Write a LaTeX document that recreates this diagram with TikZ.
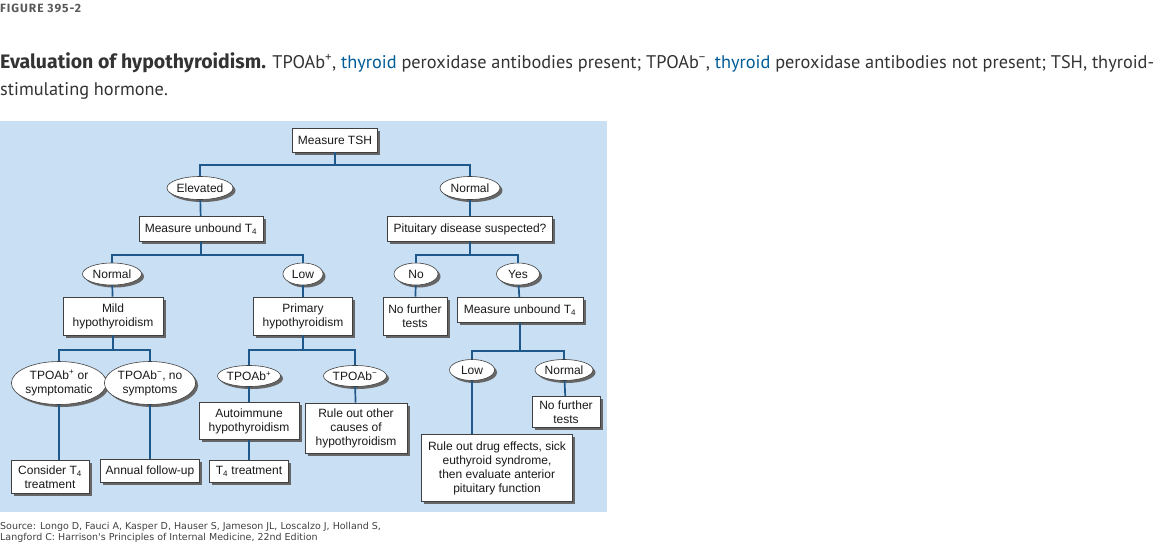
\documentclass[tikz,border=0pt]{standalone}
\usepackage{fontspec}
\setmainfont{Liberation Sans}
\newfontfamily\capfont{PT Sans}
\newfontfamily\headfont{Fira Sans}
\newfontfamily\figfont[LetterSpace=8]{Fira Sans}
\newfontfamily\srcfont{DejaVu Sans}
\usetikzlibrary{shapes.geometric,shadows}
\definecolor{bgblue}{RGB}{201,223,243}
\definecolor{linkblue}{RGB}{31,88,138}
\definecolor{refblue}{RGB}{0,92,150}
\definecolor{captext}{RGB}{51,51,51}
\tikzset{
  box/.style={draw=black!75, fill=white, line width=0.6pt, align=center, inner sep=0pt,
    text=black!90, font=\fontsize{12}{14}\selectfont,
    drop shadow={shadow xshift=2.5pt, shadow yshift=-2.5pt, fill=black!60, opacity=1}},
  oval/.style={box, ellipse},
  link/.style={draw=linkblue, line width=1.7pt}
}

\begin{document}
\begin{tikzpicture}[x=1pt,y=-1pt]
    \useasboundingbox (0,0) rectangle (1161,544);
    % caption
    \node[anchor=base west, inner sep=0pt, text=black!65, font=\figfont\bfseries\fontsize{12}{14}\selectfont] (fig) at (0,12) {FIGURE 395-2};
    \node[anchor=base west, inner sep=0pt, text=captext, font=\capfont\fontsize{18.3}{22}\selectfont] (cap1) at (0,68)
      {{\headfont\bfseries\fontsize{19.5}{22}\selectfont Evaluation of hypothyroidism.} TPOAb\textsuperscript{+}, \textcolor{refblue}{thyroid} peroxidase antibodies present; TPOAb\textsuperscript{−}, \textcolor{refblue}{thyroid} peroxidase antibodies not present; TSH, thyroid-};
    \node[anchor=base west, inner sep=0pt, text=captext, font=\capfont\fontsize{18.3}{22}\selectfont] (cap2) at (0,95) {stimulating hormone.};
    \fill[bgblue] (0,121) rectangle (607,512);

    % level 1
    \node[box, minimum width=85pt, minimum height=24pt] (tsh) at (335,140) {Measure TSH};
    \node[oval, minimum width=59pt, minimum height=23pt] (elev) at (200,188) {Elevated};
    \node[oval, minimum width=60pt, minimum height=23pt] (norm) at (470,188) {Normal};
    \node[box, minimum width=124pt, minimum height=25pt] (mua) at (201,229) {Measure unbound T\textsubscript{4}};
    \node[box, minimum width=165pt, minimum height=25pt] (pit) at (470,229) {Pituitary disease suspected?};

    % level 2
    \node[oval, minimum width=59pt, minimum height=22pt] (normb) at (112,274) {Normal};
    \node[oval, minimum width=40pt, minimum height=22pt] (lowb) at (303,274) {Low};
    \node[oval, minimum width=44pt, minimum height=22pt] (no) at (416,274) {No};
    \node[oval, minimum width=43pt, minimum height=22pt] (yes) at (518,274) {Yes};
    \node[box, minimum width=100pt, minimum height=38pt] (mild) at (113,316) {Mild\\hypothyroidism};
    \node[box, minimum width=99pt, minimum height=38pt] (prim) at (303,316) {Primary\\hypothyroidism};
    \node[box, minimum width=64pt, minimum height=38pt] (nfta) at (415,316) {No further\\tests};
    \node[box, minimum width=126pt, minimum height=25pt] (mub) at (520,310) {Measure unbound T\textsubscript{4}};

    % level 3
    \node[oval, minimum width=94pt, minimum height=43pt] (posa) at (59,383) {TPOAb\textsuperscript{+} or\\symptomatic};
    \node[oval, minimum width=78pt, minimum height=43pt] (nega) at (150,383) {TPOAb\textsuperscript{−}, no\\symptoms};
    \node[oval, minimum width=58pt, minimum height=21pt] (posb) at (249,376) {TPOAb\textsuperscript{+}};
    \node[oval, minimum width=61pt, minimum height=21pt] (negb) at (355,376) {TPOAb\textsuperscript{−}};
    \node[oval, minimum width=45pt, minimum height=21pt] (lowc) at (472,370) {Low};
    \node[oval, minimum width=58pt, minimum height=21pt] (normc) at (564,370) {Normal};

    % results
    \node[box, minimum width=78pt, minimum height=33pt] (cons) at (50,477) {Consider T\textsubscript{4}\\treatment};
    \node[box, minimum width=99pt, minimum height=23pt] (annual) at (150,471) {Annual follow-up};
    \node[box, minimum width=100pt, minimum height=37pt] (auto) at (249,421) {Autoimmune\\hypothyroidism};
    \node[box, minimum width=79pt, minimum height=22pt] (treat) at (249,471) {T\textsubscript{4} treatment};
    \node[box, minimum width=102pt, minimum height=50pt] (other) at (356,428) {Rule out other\\causes of\\hypothyroidism};
    \node[box, minimum width=68pt, minimum height=31pt] (nftb) at (566,412) {No further\\tests};
    \node[box, minimum width=151pt, minimum height=67pt] (drug) at (497,468) {Rule out drug effects, sick\\euthyroid syndrome,\\then evaluate anterior\\pituitary function};

    % connectors
    \draw[link] (tsh.south) -- ++(0,13) coordinate (b1);
    \draw[link] (elev.north) |- (b1) -| (norm.north);
    \draw[link] (elev) -- (mua);
    \draw[link] (norm) -- (pit);
    \draw[link] (mua.south) -- ++(0,13) coordinate (b2);
    \draw[link] (normb.north) |- (b2) -| (lowb.north);
    \draw[link] (pit.south) -- ++(0,13) coordinate (b3);
    \draw[link] (no.north) |- (b3) -| (yes.north);
    \draw[link] (normb) -- (mild);
    \draw[link] (lowb) -- (prim);
    \draw[link] (no) -- (nfta);
    \draw[link] (yes) -- (mub);
    \draw[link] (mild.south) -- ++(0,15) coordinate (b4);
    \draw[link] (posa.north) |- (b4) -| (nega.north);
    \draw[link] (prim.south) -- ++(0,15) coordinate (b5);
    \draw[link] (posb.north) |- (b5) -| (negb.north);
    \draw[link] (mub.south) -- ++(0,28) coordinate (b6);
    \draw[link] (lowc.north) |- (b6) -| (normc.north);
    \draw[link] (posa.south) -- (posa.south |- cons.north);
    \draw[link] (nega.south) -- (nega.south |- annual.north);
    \draw[link] (posb) -- (auto);
    \draw[link] (auto) -- (treat);
    \draw[link] (negb) -- (other);
    \draw[link] (normc) -- (nftb);
    \draw[link] (lowc.south) -- (lowc.south |- drug.north);

    % source
    \node[anchor=base west, inner sep=0pt, text=black!75, font=\srcfont\fontsize{9.5}{11}\selectfont] (src1) at (0,529)
      {Source: Longo D, Fauci A, Kasper D, Hauser S, Jameson JL, Loscalzo J, Holland S,};
    \node[anchor=base west, inner sep=0pt, text=black!75, font=\srcfont\fontsize{9.5}{11}\selectfont] (src2) at (0,540)
      {Langford C: Harrison's Principles of Internal Medicine, 22nd Edition};
  \end{tikzpicture}
\end{document}
